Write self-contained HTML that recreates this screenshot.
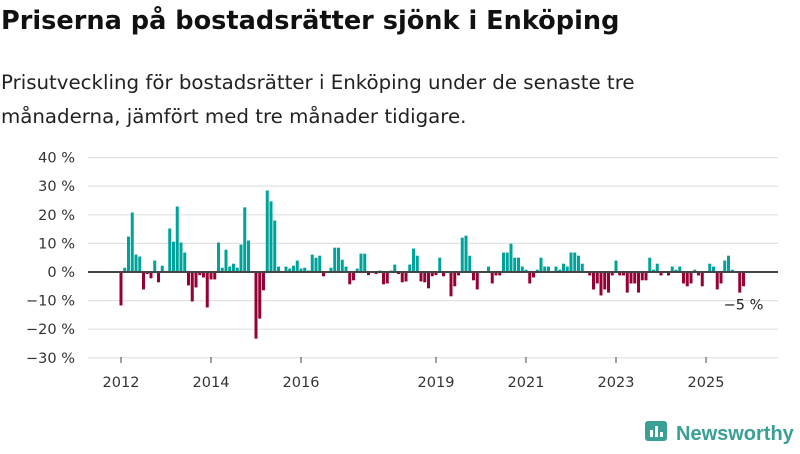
<!DOCTYPE html>
<html><head><meta charset="utf-8">
<style>
body{margin:0;background:#fff;width:800px;height:450px;overflow:hidden;font-family:"DejaVu Sans","Liberation Sans",sans-serif;}
svg text{font-family:"DejaVu Sans","Liberation Sans",sans-serif;}
</style></head>
<body>
<svg id="chart" width="800" height="450" viewBox="0 0 800 450">
<text x="1" y="29" font-size="25.6" font-weight="bold" fill="#111">Priserna på bostadsrätter sjönk i Enköping</text>
<text x="1" y="89" font-size="19.8" fill="#222">Prisutveckling för bostadsrätter i Enköping under de senaste tre</text>
<text x="1" y="123" font-size="19.8" fill="#222">månaderna, jämfört med tre månader tidigare.</text>
<g id="grid"></g><g id="bars"></g><g id="axes"></g>
<g>
<rect x="645" y="421" width="22" height="20" rx="3" fill="#3a9f95"/>
<rect x="650" y="430" width="3" height="7" fill="#fff"/><rect x="655" y="426" width="3" height="11" fill="#fff"/><rect x="660" y="432" width="3" height="5" fill="#fff"/>
<text x="676" y="440" font-size="20" font-weight="bold" fill="#3a9f95" style="font-family:'Liberation Sans',sans-serif">Newsworthy</text>
</g>
</svg>
<script>
const yTicks=[40,30,20,10,0,-10,-20,-30];
const xTickLabels=["2012","2014","2016","2019","2021","2023","2025"];
const xTickMonths=[0,24,48,84,108,132,156];
const values=[-11.7,1.5,12.4,20.8,6.1,5.4,-6.1,-0.7,-2.2,4.0,-3.6,2.2,0,15.2,10.6,22.9,10.3,6.8,-4.7,-10.3,-5.4,-1.1,-1.9,-12.4,-2.6,-2.6,10.3,1.5,7.8,1.9,2.9,1.5,9.6,22.6,11.0,0,-23.3,-16.3,-6.4,28.5,24.7,18.0,1.9,0,1.9,1.2,2.2,4.0,1.2,1.5,0.5,6.1,5.0,5.7,-1.5,0,1.5,8.5,8.5,4.3,1.9,-4.3,-2.9,1.2,6.4,6.4,-1.1,0,-0.7,0.5,-4.3,-4.0,0.5,2.6,-0.7,-3.6,-3.3,2.6,8.2,5.7,-3.3,-3.6,-5.7,-1.5,-1.1,5.0,-1.5,0,-8.5,-5.0,-1.2,12.0,12.7,5.7,-2.9,-6.1,0,0,1.9,-4.0,-1.2,-1.2,6.8,6.8,9.9,5.0,5.0,1.9,0.8,-4.0,-1.9,0.8,5.0,1.9,1.9,0,1.9,0.8,2.9,1.9,6.8,6.8,5.7,2.9,0,-1.2,-6.1,-4.0,-8.2,-6.1,-7.2,-1.2,4.0,-1.2,-1.2,-7.2,-4.0,-4.0,-7.2,-2.9,-2.9,5.0,0.8,2.9,-1.2,0,-1.2,1.9,0.8,1.9,-4.0,-5.0,-4.0,0.8,-1.2,-5.0,0,2.9,1.9,-6.1,-4.0,4.0,5.7,0.8,0,-7.2,-5.0];
const lastLabel="−5 %";
const NS="http://www.w3.org/2000/svg";
const y=v=>272-v*2.86;
const x=m=>121+m*3.75;
function mk(tag,attrs,parent){const e=document.createElementNS(NS,tag);for(const k in attrs)e.setAttribute(k,attrs[k]);parent.appendChild(e);return e;}
const grid=document.getElementById('grid'),bars=document.getElementById('bars'),axes=document.getElementById('axes');
yTicks.forEach(t=>{
 if(t!==0){const l=mk('line',{x1:88,x2:778,y1:y(t),y2:y(t),stroke:'#e2e2e2','stroke-width':1.2},grid);
 
 }
 const tx=mk('text',{x:75,y:y(t)+5,'font-size':14.5,'text-anchor':'end',fill:'#333'},axes);
 tx.textContent=t.toString().replace('-','−')+' %';
 
 
});
values.forEach((v,i)=>{
 if(v===0)return;
 const r=mk('rect',{x:x(i)-1.5,width:3,y:Math.min(y(v),y(0)),height:Math.abs(y(v)-y(0)),fill:v>0?'#00a39a':'#950037'},bars);
 
 
});
const zl=mk('line',{x1:88,x2:778,y1:y(0),y2:y(0),stroke:'#444','stroke-width':2},axes);


xTickLabels.forEach((s,i)=>{
 const tk=mk('line',{x1:x(xTickMonths[i]),x2:x(xTickMonths[i]),y1:357,y2:363,stroke:'#444','stroke-width':1},axes);
 
 
 const t=mk('text',{x:x(xTickMonths[i]),y:387,'font-size':14.5,'text-anchor':'middle',fill:'#333'},axes);
 t.textContent=s;
 
 
});
const li=values.length-1;
const ll=mk('text',{x:x(li),y:y(values[li])+23,'font-size':14.5,'text-anchor':'middle',fill:'#222'},axes);
ll.textContent=lastLabel;


</script>
</body></html>
